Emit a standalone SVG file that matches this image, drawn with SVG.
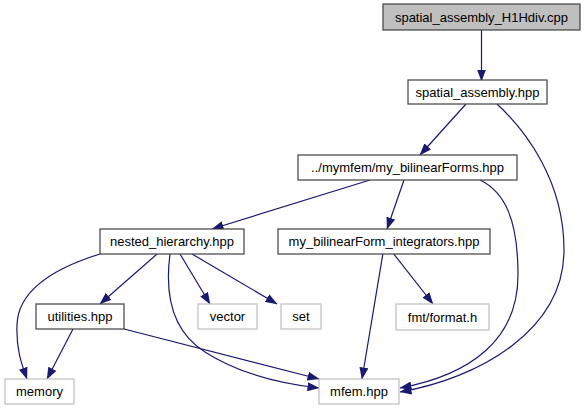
<svg xmlns="http://www.w3.org/2000/svg" width="585" height="411" viewBox="0 0 585 411">
<defs>
<marker id="arr" viewBox="0 0 12 9" refX="11.5" refY="4.5" markerWidth="12" markerHeight="9" markerUnits="userSpaceOnUse" orient="auto">
<path d="M0,0 L12,4.5 L0,9 Z" fill="#191970"/>
</marker>
</defs>
<style>
.n rect{fill:#fff;stroke:#404040;stroke-width:1.2}
.g rect{fill:#fff;stroke:#bfbfbf;stroke-width:1.2}
.root rect{fill:#bfbfbf;stroke:#404040}
text{font-family:"Liberation Sans",Arial,sans-serif;font-size:13px;fill:#000;text-anchor:middle}
.e path{fill:none;stroke:#191970;stroke-width:1.2;marker-end:url(#arr)}
</style>
<g class="e" id="edges">
<path d="M481.5,30 L481.5,81"/>
<path d="M466,104 L420,155"/>
<path d="M497,104 C525,130 564,180 564,250 C564,330 480,378 400,392"/>
<path d="M370,180 L212,229"/>
<path d="M404,180 L387,229"/>
<path d="M480,180 C505,192 518,220 518,275 C518,340 470,375 400,388"/>
<path d="M393,253 L433,304"/>
<path d="M383,253 L362,379"/>
<path d="M157,254 L100,304"/>
<path d="M180,254 L210,304"/>
<path d="M192,254 L277,304"/>
<path d="M170,254 C165,292 170,330 205,352 C236,372 275,383 319,388"/>
<path d="M124,329 L319,379"/>
<path d="M73,329 L47,379"/>
<path d="M100,254 C55,268 18,290 17,325 C16,350 22,365 27,379"/>
</g>
<g id="n1" class="n root"><rect x="383" y="4" width="197" height="26"/><text x="481.5" y="21.5">spatial_assembly_H1Hdiv.cpp</text></g>
<g id="n2" class="n"><rect x="408" y="80" width="139" height="24"/><text x="477.5" y="96.5">spatial_assembly.hpp</text></g>
<g id="n3" class="n"><rect x="298" y="155" width="219" height="25"/><text x="407.5" y="172">../mymfem/my_bilinearForms.hpp</text></g>
<g id="n4" class="n"><rect x="278" y="229" width="212" height="25"/><text x="384" y="246">my_bilinearForm_integrators.hpp</text></g>
<g id="n5" class="n"><rect x="100" y="229" width="144" height="25"/><text x="172" y="246">nested_hierarchy.hpp</text></g>
<g id="n6" class="n"><rect x="36" y="304" width="88" height="25"/><text x="80" y="321">utilities.hpp</text></g>
<g id="n7" class="g"><rect x="198" y="304" width="59" height="25"/><text x="227.5" y="321">vector</text></g>
<g id="n8" class="g"><rect x="281" y="304" width="40" height="25"/><text x="301" y="321">set</text></g>
<g id="n9" class="g"><rect x="396" y="304" width="93" height="26"/><text x="442.5" y="321.5">fmt/format.h</text></g>
<g id="n10" class="g"><rect x="5" y="379" width="69" height="25"/><text x="39.5" y="396">memory</text></g>
<g id="n11" class="g"><rect x="319" y="379" width="80" height="25"/><text x="359" y="396">mfem.hpp</text></g>
</svg>
